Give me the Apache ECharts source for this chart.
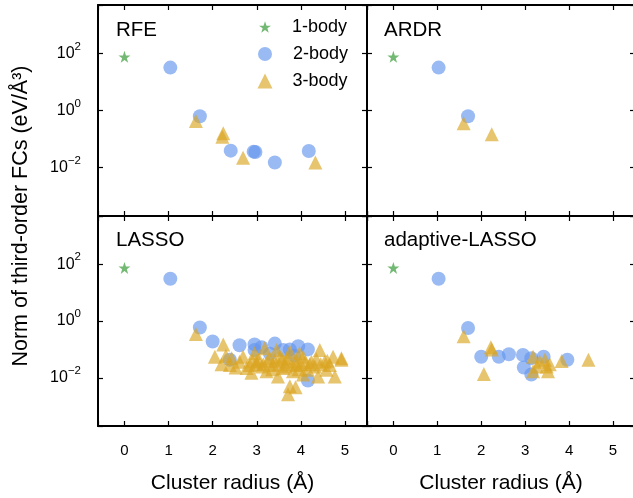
<!DOCTYPE html>
<html>
<head>
<meta charset="utf-8">
<script src="https://cdn.jsdelivr.net/npm/echarts@6/dist/echarts.min.js"></script>
<style>html,body{margin:0;padding:0;background:#fff}#c{width:633px;height:498px}</style>
</head>
<body>
<div id="c"></div>
<script>
// Panel titles
const panelTitles = ['RFE', 'ARDR', 'LASSO', 'adaptive-LASSO'];
const seriesNames = ['1-body', '2-body', '3-body'];
const xTicks = [0, 1, 2, 3, 4, 5];
const yTickExps = [-2, 0, 2];

// [cluster radius (Å), norm (eV/Å^3)]
const rfe1 = [[0, 76]];
const rfe2 = [[1.04, 32], [1.71, 0.63], [2.41, 0.039], [2.93, 0.036], [2.97, 0.035], [3.41, 0.015], [4.18, 0.038]];
const rfe3 = [[1.62, 0.43], [2.24, 0.16], [2.22, 0.12], [2.69, 0.022], [4.33, 0.015]];

const ardr1 = [[0, 76]];
const ardr2 = [[1.03, 32], [1.70, 0.63]];
const ardr3 = [[1.60, 0.36], [2.24, 0.146]];

const lasso1 = [[0, 74]];
const lasso2 = [[1.04, 31], [1.71, 0.59], [2.0, 0.19], [2.61, 0.14], [2.95, 0.15], [2.95, 0.095], [3.11, 0.12],
  [3.41, 0.16], [3.6, 0.095], [3.75, 0.10], [3.94, 0.13], [4.16, 0.10], [2.39, 0.043], [4.16, 0.008],
  [3.3, 0.07], [3.85, 0.06]];
const lasso3 = [[1.62, 0.35], [2.24, 0.15], [2.05, 0.055], [2.2, 0.030], [2.43, 0.049], [2.52, 0.023], [2.69, 0.055],
  [2.88, 0.015], [2.99, 0.037], [3.18, 0.11], [3.29, 0.049], [3.48, 0.011], [3.52, 0.055], [3.67, 0.037],
  [3.75, 0.005], [3.71, 0.0026], [3.88, 0.0046], [3.9, 0.028], [4.05, 0.055], [4.16, 0.019], [4.43, 0.095],
  [4.39, 0.011], [4.54, 0.037], [4.73, 0.055], [4.77, 0.011], [4.92, 0.049], [4.66, 0.028], [2.84, 0.028],
  [3.11, 0.025], [3.37, 0.028], [3.6, 0.022], [3.82, 0.017], [4.05, 0.013], [4.24, 0.037], [3.22, 0.017],
  [2.95, 0.073], [3.45, 0.095], [3.75, 0.083], [2.39, 0.028], [4.32, 0.025], [3.97, 0.073], [2.61, 0.037],
  [2.77, 0.022], [4.58, 0.019], [3.05, 0.045], [3.4, 0.04], [3.58, 0.045], [3.8, 0.03], [4.1, 0.035],
  [4.35, 0.045], [3.15, 0.03], [3.95, 0.02], [2.3, 0.06], [4.92, 0.043],
  [3.0, 0.03], [3.25, 0.04], [3.5, 0.03], [3.7, 0.05], [3.9, 0.04], [4.2, 0.03], [4.45, 0.03],
  [3.35, 0.02], [3.65, 0.025], [4.0, 0.03], [2.9, 0.04], [4.6, 0.04]];

const alasso1 = [[0, 74]];
const alasso2 = [[1.03, 31], [1.70, 0.57], [2.0, 0.055], [2.4, 0.055], [2.63, 0.067], [2.95, 0.063], [2.97, 0.023],
  [3.14, 0.013], [3.14, 0.049], [3.42, 0.055], [3.96, 0.043]];
const alasso3 = [[1.60, 0.29], [2.22, 0.12], [2.24, 0.10], [2.06, 0.0135], [3.18, 0.055], [3.27, 0.025], [3.33, 0.037],
  [3.45, 0.043], [3.49, 0.025], [3.56, 0.030], [3.52, 0.017], [3.18, 0.017], [3.83, 0.039], [4.44, 0.043]];

const panels = [[rfe1, rfe2, rfe3], [ardr1, ardr2, ardr3], [lasso1, lasso2, lasso3], [alasso1, alasso2, alasso3]];

const FONT = 'Liberation Sans, Arial, Helvetica, sans-serif';
const gridBoxes = [
  {left: 98, top: 5, width: 269, height: 211},
  {left: 367, top: 5, width: 268, height: 211},
  {left: 98, top: 216, width: 269, height: 210},
  {left: 367, top: 216, width: 268, height: 210}
];
const titlePos = [[116, 31], [384, 31], [116, 241], [384, 241]];

const isInt = v => Math.abs(v - Math.round(v)) < 1e-6;
const sup = n => (n < 0 ? '\u2212' + Math.abs(n) : String(n));

const grid = [], xAxis = [], yAxis = [], series = [];
gridBoxes.forEach((g, i) => {
  grid.push(Object.assign({containLabel: false, outerBoundsMode: 'none'}, g));
  const bottomRow = i >= 2, leftCol = i % 2 === 0;
  const lineStyle = {color: '#000', width: 2};
  const tick = {show: true, inside: true, length: 5, lineStyle: {color: '#000', width: 1.2}};
  // bottom x
  xAxis.push({
    type: 'value', gridIndex: i, min: -0.6, max: 5.5, position: 'bottom',
    axisLine: {show: true, onZero: false, lineStyle}, axisTick: tick, splitLine: {show: false},
    axisLabel: {show: bottomRow, margin: 17, fontFamily: FONT, fontSize: 15, color: '#000',
      formatter: v => (isInt(v) && xTicks.includes(Math.round(v))) ? String(Math.round(v)) : ''},
    name: bottomRow ? 'Cluster radius (\u00c5)' : '', nameLocation: 'middle', nameGap: 47,
    nameTextStyle: {fontFamily: FONT, fontSize: 21, color: '#000'}
  });
  // top x (mirror ticks)
  xAxis.push({
    type: 'value', gridIndex: i, min: -0.6, max: 5.5, position: 'top',
    axisLine: {show: true, onZero: false, lineStyle}, axisTick: tick, splitLine: {show: false},
    axisLabel: {show: false}
  });
  // left y
  yAxis.push({
    type: 'value', gridIndex: i, min: -3.7, max: 3.7, splitNumber: 4, position: 'left',
    axisLine: {show: true, onZero: false, lineStyle}, axisTick: tick, splitLine: {show: false},
    axisLabel: {show: leftCol, margin: 17, color: '#000', fontFamily: FONT, fontSize: 16,
      formatter: v => (isInt(v) && yTickExps.includes(Math.round(v))) ? '{base|10}{exp|' + sup(Math.round(v)) + '}' : '',
      rich: {
        base: {fontFamily: FONT, fontSize: 16, color: '#000', lineHeight: 26},
        exp: {fontFamily: FONT, fontSize: 11.5, color: '#000', lineHeight: 14, verticalAlign: 'top'}
      }}
  });
  // right y (mirror ticks)
  yAxis.push({
    type: 'value', gridIndex: i, min: -3.7, max: 3.7, splitNumber: 4, position: 'right',
    axisLine: {show: true, onZero: false, lineStyle}, axisTick: tick, splitLine: {show: false},
    axisLabel: {show: false}
  });

  const styles = [
    {symbol: 'path://M50,0 L61.8,34.5 L97.6,34.5 L68.8,55.9 L79.4,90.5 L50,69.1 L20.6,90.5 L31.2,55.9 L2.4,34.5 L38.2,34.5 Z', size: 12, color: 'green', opacity: 0.55},
    {symbol: 'circle', size: 14, color: 'cornflowerblue', opacity: 0.65},
    {symbol: 'triangle', size: 14, color: 'goldenrod', opacity: 0.65}
  ];
  panels[i].forEach((d, k) => {
    series.push({
      type: 'scatter', name: seriesNames[k], xAxisIndex: i * 2, yAxisIndex: i * 2,
      symbol: styles[k].symbol, symbolSize: styles[k].size,
      itemStyle: {color: styles[k].color, opacity: styles[k].opacity},
      emphasis: {disabled: true}, silent: true,
      data: d.map(p => [p[0], Math.log10(p[1])])
    });
  });
});

const legendDefs = [
  {name: '1-body', cx: 265, cy: 28, w: 12, pad: 16},
  {name: '2-body', cx: 265, cy: 55, w: 14, pad: 16},
  {name: '3-body', cx: 265, cy: 82, w: 15, pad: 15}
];
const legend = legendDefs.map(l => ({
  data: [l.name], orient: 'vertical', padding: 0, selectedMode: false,
  left: l.cx - l.w / 2, top: l.cy - 10, itemWidth: l.w, itemHeight: l.w,
  formatter: '{t|{name}}',
  textStyle: {rich: {t: {fontFamily: FONT, fontSize: 18, color: '#000', padding: [0, 0, 0, l.pad]}}}
}));

const graphic = panelTitles.map((t, i) => ({
  type: 'text', left: titlePos[i][0], top: titlePos[i][1] - 11, silent: true,
  style: {text: t, font: '20.5px ' + FONT, fill: '#000'}
}));
graphic.push({
  type: 'text', x: 21, y: 216, rotation: Math.PI / 2, silent: true,
  style: {text: 'Norm of third-order FCs (eV/\u00c5\u00b3)', font: '21.5px ' + FONT, fill: '#000',
    textAlign: 'center', textVerticalAlign: 'middle'}
});

const chart = echarts.init(document.getElementById('c'), null, {renderer: 'canvas'});
chart.setOption({animation: false, backgroundColor: '#fff', grid, xAxis, yAxis, series, legend, graphic});
</script>
</body>
</html>
